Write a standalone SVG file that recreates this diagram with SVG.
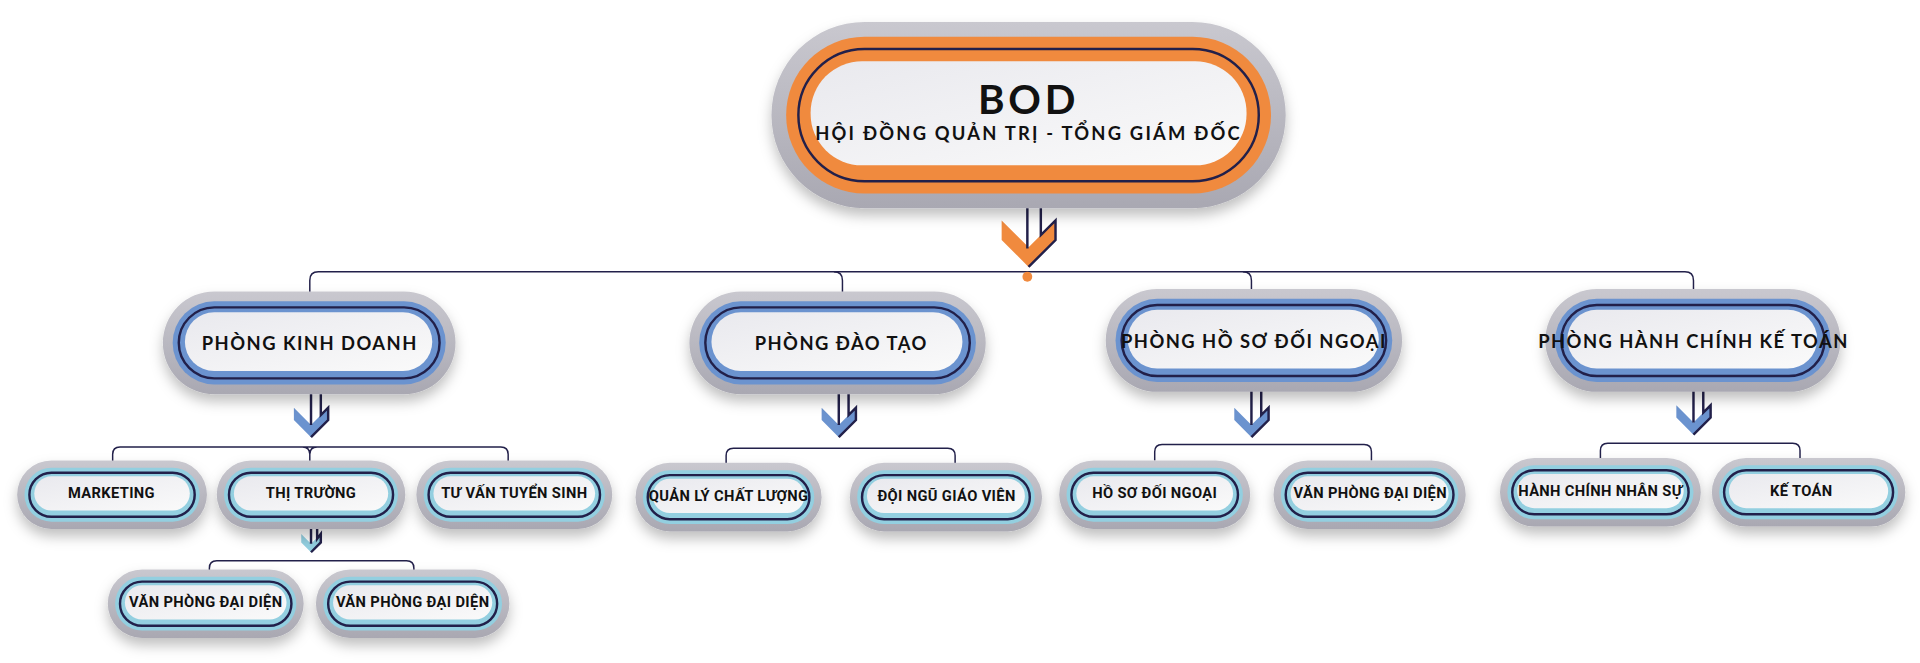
<svg xmlns="http://www.w3.org/2000/svg" width="1920" height="663" viewBox="0 0 1920 663">
<defs>
<linearGradient id="gg" x1="0" y1="0" x2="0" y2="1"><stop offset="0" stop-color="#c9c8cf"/><stop offset="1" stop-color="#a9a8b2"/></linearGradient>
<linearGradient id="wg" x1="0" y1="0" x2="1" y2="1"><stop offset="0" stop-color="#e9e9ee"/><stop offset="1" stop-color="#fafafa"/></linearGradient>
<filter id="sh" x="-10%" y="-20%" width="120%" height="160%"><feDropShadow dx="0" dy="6" stdDeviation="5" flood-color="#000" flood-opacity="0.25"/></filter>
</defs>
<style>
.g{fill:url(#gg);filter:url(#sh)}
.o{fill:#f08a3e}.b{fill:#6b93cf}.c{fill:#93cfe0}
.d{fill:none;stroke:#22204a;stroke-width:2}
.w{fill:url(#wg)}
.t{font-family:Lato,"Noto Sans",sans-serif;font-weight:700;fill:#111;text-anchor:middle}
.dep{font-size:15px;letter-spacing:1.2px}
.sub{font-family:Roboto,"Noto Sans",sans-serif;font-size:12px;letter-spacing:0.3px}
.ln{fill:none;stroke:#22204a;stroke-width:1.2}
</style>
<rect width="1920" height="663" fill="#fff"/>
<g transform="scale(1.2245)">
<g id="connectors">
<path class="ln" d="M253 245V229Q253 222 260 222H1376Q1383 222 1383 229V245"/>
<path class="ln" d="M681 222Q688 222 688 229V245M1015 222Q1022 222 1022 229V245"/>
<circle cx="839" cy="226" r="4" fill="#f08a3e"/>
<path class="ln" d="M92 377V371Q92 365 98 365H409Q415 365 415 371V377M247 365Q253 365 253 371V377M259 365Q253 365 253 371"/>
<path class="ln" d="M593 379V372Q593 366 599 366H774Q780 366 780 372V379"/>
<path class="ln" d="M943 376V369Q943 363 949 363H1114Q1120 363 1120 369V376"/>
<path class="ln" d="M1307 374V368Q1307 362 1313 362H1464Q1470 362 1470 368V374"/>
<path class="ln" d="M171 470V464Q171 458 177 458H332Q338 458 338 464V470"/>
<!-- arrows -->
<polygon points="818,180 840,202 862,180 862,196 840,218 818,196" class="o"/>
<path class="d" d="M839 146V203M850 146V192L862 180V196L840 218" stroke-width="2.2"/>
<g id="arr-kd"><polygon points="240,333 254,347 268,333 268,343 254,357 240,343" class="b"/><path class="d" d="M254 310V347M262 310V339L268 333V343L254 357" stroke-width="1.5"/></g>
<g><polygon points="671,333 685,347 699,333 699,343 685,357 671,343" class="b"/><path class="d" d="M685 310V347M693 310V339L699 333V343L685 357" stroke-width="1.5"/></g>
<g><polygon points="1008,333 1022,347 1036,333 1036,343 1022,357 1008,343" class="b"/><path class="d" d="M1022 310V347M1030 310V339L1036 333V343L1022 357" stroke-width="1.5"/></g>
<g><polygon points="1369,331 1383,345 1397,331 1397,341 1383,355 1369,341" class="b"/><path class="d" d="M1383 308V345M1391 308V337L1397 331V341L1383 355" stroke-width="1.5"/></g>
<g><polygon points="246,436 254,444 262,436 262,443 254,451 246,443" class="c"/><path class="d" d="M254 425V444M259 425V440L262 436V443L254 451" stroke-width="1.2"/></g>
</g>
<g id="bod">
<rect class="g" x="630" y="18" width="420" height="152" rx="76"/>
<rect class="o" x="642" y="30" width="396" height="128" rx="64"/>
<rect class="d" x="652" y="40" width="376" height="108" rx="54" stroke-width="2.5"/>
<rect class="w" x="662" y="50" width="356" height="85" rx="42"/>
<text class="t" x="840" y="93" font-size="33" letter-spacing="3">BOD</text>
<text class="t" x="840" y="114" font-size="15" letter-spacing="1.8">HỘI ĐỒNG QUẢN TRỊ - TỔNG GIÁM ĐỐC</text>
</g>
<g id="kd"><rect class="g" x="133" y="238" width="239" height="84" rx="42"/><rect class="b" x="141" y="246" width="223" height="68" rx="34"/><rect class="d" x="146" y="251" width="213" height="58" rx="29"/><rect class="w" x="151" y="255" width="202" height="48" rx="24"/><text class="t dep" x="253" y="286">PHÒNG KINH DOANH</text></g>
<g id="dt"><rect class="g" x="563" y="238" width="242" height="84" rx="42"/><rect class="b" x="571" y="246" width="226" height="68" rx="34"/><rect class="d" x="576" y="251" width="216" height="58" rx="29"/><rect class="w" x="581" y="255" width="205" height="48" rx="24"/><text class="t dep" x="687" y="286">PHÒNG ĐÀO TẠO</text></g>
<g id="hs"><rect class="g" x="903" y="236" width="242" height="84" rx="42"/><rect class="b" x="911" y="244" width="226" height="68" rx="34"/><rect class="d" x="916" y="249" width="216" height="58" rx="29"/><rect class="w" x="921" y="253" width="205" height="48" rx="24"/><text class="t dep" x="1024" y="284" font-size="14" letter-spacing="0.4">PHÒNG HỒ SƠ ĐỐI NGOẠI</text></g>
<g id="hc"><rect class="g" x="1262" y="236" width="241" height="84" rx="42"/><rect class="b" x="1270" y="244" width="225" height="68" rx="34"/><rect class="d" x="1275" y="249" width="215" height="58" rx="29"/><rect class="w" x="1280" y="253" width="204" height="48" rx="24"/><text class="t dep" x="1383" y="284" font-size="13.5" letter-spacing="0">PHÒNG HÀNH CHÍNH KẾ TOÁN</text></g>
<g id="mk"><rect class="g" x="14" y="376" width="155" height="56" rx="28"/><rect class="c" x="20" y="382" width="143" height="44" rx="22"/><rect class="d" x="24" y="386" width="135" height="36" rx="18"/><rect class="w" x="28" y="389" width="127" height="28" rx="14"/><text class="t sub" x="91" y="407">MARKETING</text></g>
<g id="tt"><rect class="g" x="177" y="376" width="154" height="56" rx="28"/><rect class="c" x="183" y="382" width="142" height="44" rx="22"/><rect class="d" x="187" y="386" width="134" height="36" rx="18"/><rect class="w" x="191" y="389" width="126" height="28" rx="14"/><text class="t sub" x="254" y="407">THỊ TRƯỜNG</text></g>
<g id="tv"><rect class="g" x="340" y="376" width="160" height="56" rx="28"/><rect class="c" x="346" y="382" width="148" height="44" rx="22"/><rect class="d" x="350" y="386" width="140" height="36" rx="18"/><rect class="w" x="354" y="389" width="132" height="28" rx="14"/><text class="t sub" x="420" y="407">TƯ VẤN TUYỂN SINH</text></g>
<g id="ql"><rect class="g" x="519" y="378" width="152" height="56" rx="28"/><rect class="c" x="525" y="384" width="140" height="44" rx="22"/><rect class="d" x="529" y="388" width="132" height="36" rx="18"/><rect class="w" x="533" y="391" width="124" height="28" rx="14"/><text class="t sub" x="595" y="409" font-size="10.5">QUẢN LÝ CHẤT LƯỢNG</text></g>
<g id="dn"><rect class="g" x="694" y="378" width="157" height="56" rx="28"/><rect class="c" x="700" y="384" width="145" height="44" rx="22"/><rect class="d" x="704" y="388" width="137" height="36" rx="18"/><rect class="w" x="708" y="391" width="129" height="28" rx="14"/><text class="t sub" x="773" y="409" font-size="10.5">ĐỘI NGŨ GIÁO VIÊN</text></g>
<g id="hsdn"><rect class="g" x="865" y="376" width="156" height="56" rx="28"/><rect class="c" x="871" y="382" width="144" height="44" rx="22"/><rect class="d" x="875" y="386" width="136" height="36" rx="18"/><rect class="w" x="879" y="389" width="128" height="28" rx="14"/><text class="t sub" x="943" y="407">HỒ SƠ ĐỐI NGOẠI</text></g>
<g id="vp1"><rect class="g" x="1040" y="376" width="157" height="56" rx="28"/><rect class="c" x="1046" y="382" width="145" height="44" rx="22"/><rect class="d" x="1050" y="386" width="137" height="36" rx="18"/><rect class="w" x="1054" y="389" width="129" height="28" rx="14"/><text class="t sub" x="1119" y="407" font-size="11">VĂN PHÒNG ĐẠI DIỆN</text></g>
<g id="hcns"><rect class="g" x="1225" y="374" width="164" height="56" rx="28"/><rect class="c" x="1231" y="380" width="152" height="44" rx="22"/><rect class="d" x="1235" y="384" width="144" height="36" rx="18"/><rect class="w" x="1239" y="387" width="136" height="28" rx="14"/><text class="t sub" x="1307" y="405" font-size="10.5">HÀNH CHÍNH NHÂN SỰ</text></g>
<g id="kt"><rect class="g" x="1398" y="374" width="158" height="56" rx="28"/><rect class="c" x="1404" y="380" width="146" height="44" rx="22"/><rect class="d" x="1408" y="384" width="138" height="36" rx="18"/><rect class="w" x="1412" y="387" width="130" height="28" rx="14"/><text class="t sub" x="1471" y="405">KẾ TOÁN</text></g>
<g id="vp2"><rect class="g" x="88" y="465" width="160" height="56" rx="28"/><rect class="c" x="94" y="471" width="148" height="44" rx="22"/><rect class="d" x="98" y="475" width="140" height="36" rx="18"/><rect class="w" x="102" y="478" width="132" height="28" rx="14"/><text class="t sub" x="168" y="496" font-size="11">VĂN PHÒNG ĐẠI DIỆN</text></g>
<g id="vp3"><rect class="g" x="258" y="465" width="158" height="56" rx="28"/><rect class="c" x="264" y="471" width="146" height="44" rx="22"/><rect class="d" x="268" y="475" width="138" height="36" rx="18"/><rect class="w" x="272" y="478" width="130" height="28" rx="14"/><text class="t sub" x="337" y="496" font-size="11">VĂN PHÒNG ĐẠI DIỆN</text></g>
</g>
</svg>
